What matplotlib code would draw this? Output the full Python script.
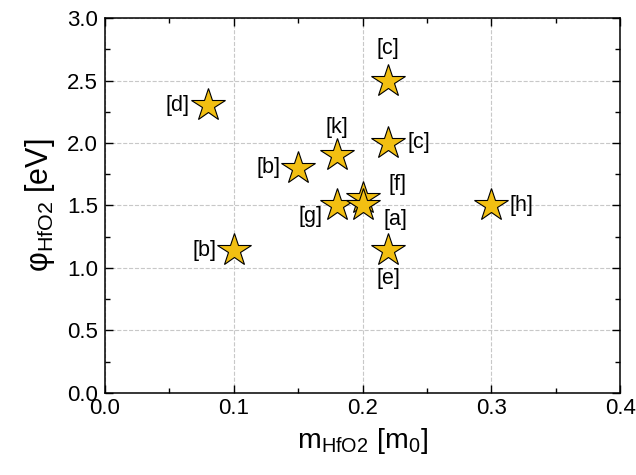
import matplotlib
matplotlib.use("Agg")
import matplotlib.pyplot as plt
from matplotlib.ticker import MultipleLocator, FormatStrFormatter

plt.rcParams['font.family'] = ['Liberation Sans', 'DejaVu Sans']
plt.rcParams['mathtext.fontset'] = 'custom'
plt.rcParams['mathtext.rm'] = 'Liberation Sans'
plt.rcParams['mathtext.it'] = 'Liberation Sans:italic'

mass = [0.08, 0.10, 0.15, 0.18, 0.18, 0.20, 0.20, 0.22, 0.22, 0.22, 0.30]
phi = [2.30, 1.14, 1.80, 1.90, 1.50, 1.56, 1.50, 2.50, 2.00, 1.14, 1.50]
labels = ['[d]', '[b]', '[b]', '[k]', '[g]', '[f]', '[a]', '[c]', '[c]', '[e]', '[h]']
# label placement: offsets in points
offsets = [(-22, 0), (-21, 0), (-21, 0), (0, 20), (-19, -8), (25, 10), (24, -10), (0, 23), (22, 0), (0, -20), (22, 0)]

fig = plt.figure(figsize=(6.36, 4.75), dpi=100)
ax = fig.add_axes([0.165, 0.173, 0.81, 0.789])

ax.plot(mass, phi, linestyle='none', marker='*', markersize=25,
        markerfacecolor='#F2BF12', markeredgecolor='black', markeredgewidth=0.8, zorder=3)

for x, y, lab, (dx, dy) in zip(mass, phi, labels, offsets):
    ax.annotate(lab, (x, y), xytext=(dx, dy), textcoords='offset points',
                ha='center', va='center', fontsize=15.5)

ax.set_xlim(0, 0.4)
ax.set_ylim(0, 3.0)
ax.xaxis.set_major_locator(MultipleLocator(0.1))
ax.xaxis.set_minor_locator(MultipleLocator(0.05))
ax.yaxis.set_major_locator(MultipleLocator(0.5))
ax.yaxis.set_minor_locator(MultipleLocator(0.25))
ax.xaxis.set_major_formatter(FormatStrFormatter('%.1f'))
ax.yaxis.set_major_formatter(FormatStrFormatter('%.1f'))
ax.tick_params(which='both', direction='in', top=True, right=True, labelsize=16)
ax.tick_params(axis='x', which='major', pad=4)
ax.tick_params(axis='y', which='major', pad=5)
ax.tick_params(which='major', length=6, width=1)
ax.tick_params(which='minor', length=3.5, width=1)
for s in ax.spines.values():
    s.set_linewidth(1.1)
ax.grid(True, which='major', linestyle='--', color='#c8c8c8', linewidth=0.8)
ax.set_axisbelow(True)

ax.set_xlabel(r'$\mathregular{m_{HfO2}}$ [$\mathregular{m_0}$]', fontsize=20.5, labelpad=5)
ax.set_ylabel(r'$\mathregular{φ_{HfO2}}$ [eV]', fontsize=22, labelpad=7)

fig.savefig('out.png', dpi=100)
